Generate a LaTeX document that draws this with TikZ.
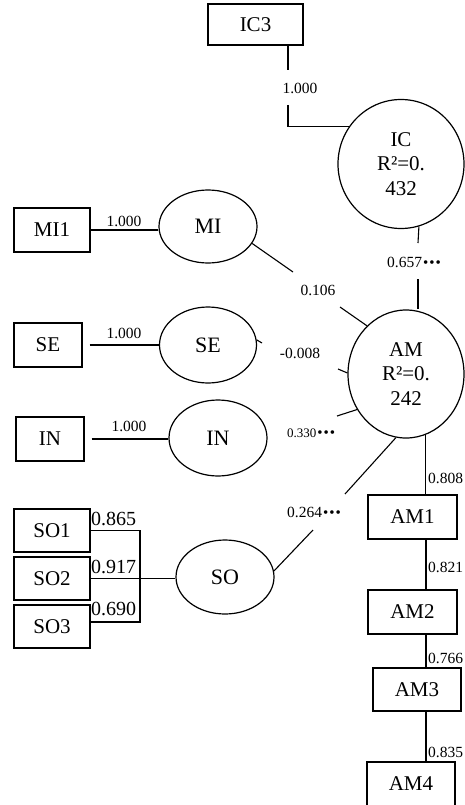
\documentclass[tikz,border=0pt]{standalone}
\usepackage{fontspec}
\setmainfont{Liberation Serif}
\usetikzlibrary{shapes.geometric}
\newcommand{\starmarks}{{\fontsize{15}{15}\selectfont\kern1pt•\kern1pt•\kern1pt•}}
\begin{document}
\begin{tikzpicture}[x=1pt,y=-1pt,
  box/.style={draw, line width=1.2pt, rectangle, inner sep=0pt, font=\fontsize{21}{21}\selectfont},
  lat/.style={draw, line width=1.2pt, ellipse, inner sep=0pt, font=\fontsize{22}{22}\selectfont},
  big/.style={draw, line width=1.2pt, ellipse, inner sep=0pt, align=center, font=\fontsize{21}{24.5}\selectfont},
  lab/.style={inner sep=0pt, font=\fontsize{15.5}{15.5}\selectfont},
  labs/.style={inner sep=0pt, font=\fontsize{13}{13}\selectfont},
  labb/.style={inner sep=0pt, anchor=west, font=\fontsize{20}{20}\selectfont},
  conn/.style={line width=1.1pt},
]
\useasboundingbox (0,0) rectangle (464,805);

% --- nodes
\node[box, minimum width=95pt, minimum height=41pt] (IC3) at (255.5,24.5) {IC3};
\node[big, minimum width=126pt, minimum height=129pt] (IC) at (401,164) {IC\\R²=0.\\432};
\node[big, minimum width=116pt, minimum height=128pt] (AM) at (406,374) {AM\\R²=0.\\242};

\node[box, minimum width=76pt, minimum height=44pt] (MI1) at (52,230) {MI1};
\node[lat, minimum width=98pt, minimum height=73pt] (MI) at (208,226.5) {MI};
\node[box, minimum width=68pt, minimum height=44pt] (SEb) at (48,345) {SE};
\node[lat, minimum width=97pt, minimum height=76pt] (SEe) at (208,345) {SE};
\node[box, minimum width=68pt, minimum height=44pt] (INb) at (50,439) {IN};
\node[lat, minimum width=98pt, minimum height=76pt] (INe) at (218,438) {IN};

\node[box, minimum width=76pt, minimum height=43pt] (SO1) at (52,530.5) {SO1};
\node[box, minimum width=76pt, minimum height=43pt] (SO2) at (52,578.5) {SO2};
\node[box, minimum width=76pt, minimum height=43pt] (SO3) at (52,626.5) {SO3};
\node[lat, minimum width=98pt, minimum height=74pt] (SOe) at (225,577) {SO};

\node[box, minimum width=89pt, minimum height=44pt] (AM1) at (412.5,517) {AM1};
\node[box, minimum width=89pt, minimum height=44pt] (AM2) at (412.5,612) {AM2};
\node[box, minimum width=88pt, minimum height=43pt] (AM3) at (417,689.5) {AM3};
\node[box, minimum width=88pt, minimum height=44pt] (AM4) at (411,784) {AM4};

% --- labels
\node[lab] (l1) at (300,88) {1.000};
\node[lab, anchor=west] (l657) at (387,262) {0.657\starmarks};
\node[lab] (l106) at (318,290) {0.106};
\node[lab] (l008) at (300,353) {-0.008};
\node[labs, anchor=west] (l330) at (287,433) {0.330\starmarks};
\node[lab, anchor=west] (l264) at (287,512) {0.264\starmarks};
\node[lab] (lmi) at (124,221) {1.000};
\node[lab] (lse) at (124,333) {1.000};
\node[lab] (lin) at (129,426) {1.000};
\node[labb] (l865) at (91,519) {0.865};
\node[labb] (l917) at (91,567) {0.917};
\node[labb] (l690) at (91,609) {0.690};
\node[lab, anchor=west] (l808) at (428,478) {0.808};
\node[lab, anchor=west] (l821) at (428,567) {0.821};
\node[lab, anchor=west] (l766) at (428,658) {0.766};
\node[lab, anchor=west] (l835) at (428,752) {0.835};

% --- coordinates for broken connectors
\coordinate (ic3a) at (288,70);
\coordinate (ic3b) at (288,105);
\coordinate (c657a) at (418,243);
\coordinate (c657b) at (418,279);
\coordinate (mi1) at (293,272);
\coordinate (mi2) at (340,307);
\coordinate (se1) at (262,343);
\coordinate (se2) at (338,369);
\coordinate (in1) at (337,416);
\coordinate (so1) at (313,530);
\coordinate (so2) at (345,494);
\coordinate (sobar) at (140,622);
\coordinate (amx) at (426,0);

% --- connectors
\draw[conn] (ic3a |- IC3.south) -- (ic3a);
\draw[conn] (ic3b) |- (IC.144);
\draw[conn] (IC.-74) -- (c657a);
\draw[conn] (c657b) -- (c657b |- AM.north);
\draw[conn] (MI.-21) -- (mi1);
\draw[conn] (mi2) -- (AM.129);
\draw[conn] (SEe.6) -- (se1);
\draw[conn] (se2) -- (AM.179);
\draw[conn] (in1) -- (AM.216);
\draw[conn] (SOe.7) -- (so1);
\draw[conn] (so2) -- (AM.261);

\draw[conn] (MI1.east) -- (MI1.east -| MI.west);
\draw[conn, shorten <=7pt] (SEb.east) -- (SEb.east -| SEe.west);
\draw[conn, shorten <=7pt] (INb.east) -- (INb.east -| INe.west);

\draw[conn] (SO1.east) -| (sobar) -- (sobar -| SO3.east);
\draw[conn] (SO2.east) -- (SO2.east -| SOe.west);

\draw[conn] (AM.-72) -- (AM.-72 |- AM1.north);
\draw[conn] (AM1.south -| amx) -- (AM2.north -| amx);
\draw[conn] (AM2.south -| amx) -- (AM3.north -| amx);
\draw[conn] (AM3.south -| amx) -- (AM4.north -| amx);
\end{tikzpicture}
\end{document}
